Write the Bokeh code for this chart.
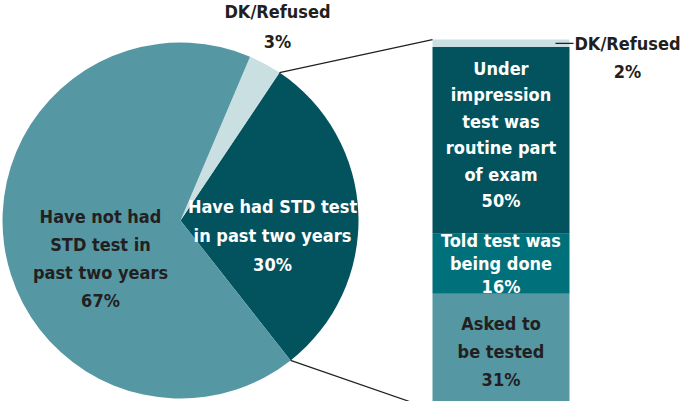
import math
from bokeh.plotting import figure
from bokeh.models import Range1d, ColumnDataSource
from bokeh.core.properties import value
from bokeh.embed import file_html
from bokeh.resources import INLINE

# ---------------- data ----------------
pie_categories = ["Have had STD test in past two years", "DK/Refused",
                  "Have not had STD test in past two years"]
pie_label_text = ["Have had STD test\nin past two years", "DK/Refused",
                  "Have not had\nSTD test in\npast two years"]
pie_values = [30, 3, 67]

bar_categories = ["Asked to be tested", "Told test was being done",
                  "Under impression test was routine part of exam", "DK/Refused"]
bar_label_text = ["Asked to\nbe tested", "Told test was\nbeing done",
                  "Under\nimpression\ntest was\nroutine part\nof exam", "DK/Refused"]
bar_values = [31, 16, 50, 2]

# ---------------- style ----------------
C_MID = "#5598A4"
C_DARK = "#02535E"
C_LIGHT = "#C9DFE2"
C_TEAL = "#00717B"
C_TXT = "#231F20"
FONT = value("DejaVu Sans Condensed, DejaVu Sans, sans-serif")
FS = "18px"

W, H = 681, 401
OFF = 8


def sy(screen_y):
    return OFF + H - screen_y


p = figure(width=W, height=H, output_backend="svg", toolbar_location=None,
           x_range=Range1d(OFF, OFF + W), y_range=Range1d(0, H),
           x_axis_type=None, y_axis_type=None, min_border=0,
           outline_line_color=None, background_fill_color="white",
           border_fill_color="white")
p.grid.visible = False

# ---------------- pie ----------------
CX, CY, R = 188, sy(228), 178
start = math.radians(-51.8)
total = sum(pie_values)
pie_colors = [C_DARK, C_LIGHT, C_MID]
s_ang, e_ang = [], []
cum = start
for v in pie_values:
    s_ang.append(cum)
    cum += v / total * 2 * math.pi
    e_ang.append(cum)
pie_src = ColumnDataSource(dict(start=s_ang, end=e_ang, color=pie_colors,
                                cat=pie_categories))
p.wedge(x=CX, y=CY, radius=R, start_angle="start", end_angle="end",
        fill_color="color", line_color=None, source=pie_src)

# pie labels
pie_lab_x = [280, 285, 108]
pie_lab_y = [sy(243), sy(34), sy(266)]
pie_lab_col = ["white", C_TXT, C_TXT]
pie_lab_lh = [1.36, 1.39, 1.34]
pie_lab = [f"{t}\n{v}%" for t, v in zip(pie_label_text, pie_values)]
for i in range(3):
    p.text(x=[pie_lab_x[i]], y=[pie_lab_y[i]], text=[pie_lab[i]],
           text_color=pie_lab_col[i], text_font=FONT, text_font_size=FS,
           text_font_style="bold", text_align="center",
           text_baseline="middle", text_line_height=pie_lab_lh[i])

# ---------------- stacked bar ----------------
BS, BE = 2.14, 109.45
p.extra_y_ranges = {"bar": Range1d(BS, BE)}
BX0, BX1 = 440, 577
bottoms, tops = [], []
c = 0
for v in bar_values:
    bottoms.append(c)
    c += v
    tops.append(c)
bar_colors = [C_MID, C_TEAL, C_DARK, C_LIGHT]
bar_src = ColumnDataSource(dict(bottom=bottoms, top=tops, color=bar_colors,
                                cat=bar_categories))
p.vbar(x=(BX0 + BX1) / 2, width=BX1 - BX0, bottom="bottom", top="top",
       fill_color="color", line_color=None, source=bar_src, y_range_name="bar")

# bar labels (inside the segments)
mids = [(b + t) / 2 for b, t in zip(bottoms, tops)]
in_lab = [f"{t}\n{v}%" for t, v in zip(bar_label_text[:3], bar_values[:3])]
in_col = [C_TXT, "white", "white"]
in_lh = [1.34, 1.09, 1.26]
in_off = [0, 0, -6]
for i in range(3):
    p.text(x=[(BX0 + BX1) / 2], y=[mids[i]], text=[in_lab[i]],
           text_color=in_col[i], text_font=FONT, text_font_size=FS,
           text_font_style="bold", text_align="center",
           text_baseline="middle", text_line_height=in_lh[i],
           y_offset=in_off[i], y_range_name="bar")

# outside DK label for bar
dk_y = sy(65)
p.text(x=[635], y=[dk_y], text=[f"{bar_label_text[3]}\n{bar_values[3]}%"],
       text_color=C_TXT, text_font=FONT, text_font_size=FS,
       text_font_style="bold", text_align="center", text_baseline="middle",
       text_line_height=1.29)
dk_line_y = (mids[3] - BS) * H / (BE - BS)
p.segment(x0=[563], y0=[dk_line_y], x1=[581], y1=[dk_line_y],
          line_color=C_TXT, line_width=1.2)


# ---------------- leader lines ----------------
def bar_to_main(v):
    return (v - BS) * H / (BE - BS)


a_top = e_ang[0]
a_bot = s_ang[0]
x0s = [CX + R * math.cos(a_top), CX + R * math.cos(a_bot)]
y0s = [CY + R * math.sin(a_top), CY + R * math.sin(a_bot)]
x1s = [BX0, BX0]
y1s = [bar_to_main(tops[-1]), bar_to_main(bottoms[0])]
p.segment(x0=x0s, y0=y0s, x1=x1s, y1=y1s, line_color=C_TXT, line_width=1.2)

open("out.html", "w").write(file_html(p, INLINE))
